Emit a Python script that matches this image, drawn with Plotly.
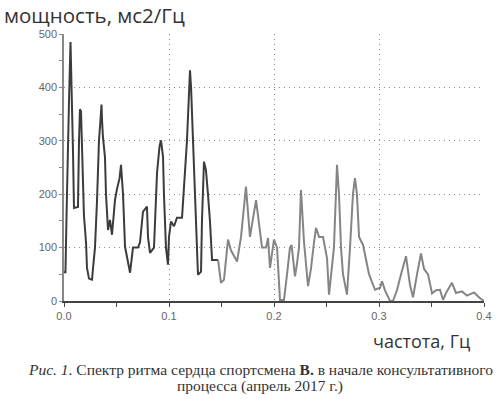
import plotly.graph_objects as go

# Spectrum, first (darker) part
freq_dark = [0.0000, 0.0014, 0.0024, 0.0033, 0.0048, 0.0062, 0.0076, 0.0086, 0.0095, 0.0133,
             0.0143, 0.0152, 0.0162, 0.0171, 0.0181, 0.0190, 0.0210, 0.0219, 0.0238, 0.0267,
             0.0276, 0.0295, 0.0314, 0.0333, 0.0348, 0.0357, 0.0362, 0.0371, 0.0390, 0.0400,
             0.0419, 0.0438, 0.0457, 0.0467, 0.0486, 0.0505, 0.0529, 0.0543, 0.0562, 0.0581,
             0.0610, 0.0629, 0.0657, 0.0705, 0.0724, 0.0752, 0.0790, 0.0800, 0.0819, 0.0857,
             0.0886, 0.0910, 0.0924, 0.0943, 0.0952, 0.0971, 0.0990, 0.1000, 0.1019, 0.1048,
             0.1076, 0.1124, 0.1171, 0.1190, 0.1200, 0.1210, 0.1229, 0.1248, 0.1267, 0.1276,
             0.1305, 0.1314, 0.1333, 0.1352, 0.1371, 0.1390, 0.1410, 0.1467]
power_dark = [54, 54, 158, 268, 378, 485, 378, 277, 174, 176,
              301, 359, 355, 301, 240, 160, 109, 62, 42, 40,
              60, 100, 186, 300, 340, 368, 340, 307, 270, 200,
              133, 152, 124, 150, 190, 210, 230, 255, 200, 102,
              70, 53, 100, 100, 110, 167, 177, 120, 90, 100,
              240, 290, 301, 270, 200, 100, 68, 120, 149, 140,
              156, 156, 300, 400, 432, 400, 300, 200, 100, 49,
              55, 150, 261, 245, 200, 150, 77, 77]

# Spectrum, second (lighter) part
freq_light = [0.1467, 0.1495, 0.1524, 0.1562, 0.1590, 0.1648, 0.1686, 0.1733, 0.1771, 0.1829,
              0.1886, 0.1924, 0.1943, 0.1962, 0.2000, 0.2029, 0.2057, 0.2095, 0.2124, 0.2152,
              0.2167, 0.2200, 0.2219, 0.2238, 0.2257, 0.2267, 0.2286, 0.2324, 0.2352, 0.2381,
              0.2400, 0.2429, 0.2467, 0.2505, 0.2524, 0.2571, 0.2590, 0.2600, 0.2619, 0.2638,
              0.2657, 0.2695, 0.2724, 0.2752, 0.2771, 0.2790, 0.2810, 0.2848, 0.2905, 0.2962,
              0.3010, 0.3029, 0.3057, 0.3105, 0.3133, 0.3171, 0.3210, 0.3257, 0.3295, 0.3324,
              0.3362, 0.3400, 0.3429, 0.3467, 0.3505, 0.3543, 0.3581, 0.3610, 0.3638, 0.3695,
              0.3733, 0.3790, 0.3838, 0.3905, 0.3962, 0.4000]
power_light = [77, 34, 40, 115, 95, 74, 120, 214, 120, 189,
               100, 100, 118, 62, 115, 100, 2, 2, 50, 100,
               105, 46, 70, 100, 208, 175, 110, 28, 60, 110,
               137, 120, 120, 80, 12, 100, 200, 255, 200, 100,
               50, 12, 100, 200, 230, 200, 120, 105, 50, 21,
               25, 37, 20, 0, 0, 20, 50, 84, 30, 7,
               50, 89, 60, 50, 14, 20, 21, 2, 15, 34,
               15, 18, 10, 16, 5, 0]

x_ticks = [0.0, 0.1, 0.2, 0.3, 0.4]
x_tick_labels = ["0.0", "0.1", "0.2", "0.3", "0.4"]
y_ticks = [0, 100, 200, 300, 400, 500]
y_tick_labels = ["0", "100", "200", "300", "400", "500"]

y_title = "мощность, мс2/Гц"
x_title = "частота, Гц"
caption1 = "<i>Рис. 1</i>. Спектр ритма сердца спортсмена <b>В.</b> в начале консультативного"
caption2 = "процесса (апрель 2017 г.)"

fig = go.Figure()
fig.add_trace(go.Scatter(x=freq_dark, y=power_dark, mode="lines",
                         line=dict(color="#3c3c3c", width=2), hoverinfo="skip"))
fig.add_trace(go.Scatter(x=freq_light, y=power_light, mode="lines",
                         line=dict(color="#858585", width=2), hoverinfo="skip"))

grid = dict(gridcolor="#8a8a8a", gridwidth=1, griddash="1px,4px")
fig.update_xaxes(range=[0, 0.4], tickvals=x_ticks, ticktext=x_tick_labels,
                 showline=True, linecolor="#444", linewidth=1.5, automargin=False,
                 ticks="outside", ticklen=4, tickcolor="#444",
                 minor=dict(dtick=0.05, ticks="outside", ticklen=4, tickcolor="#444", showgrid=False),
                 tickfont=dict(family="Liberation Sans", size=11, color="#666"),
                 showgrid=True, zeroline=False, **grid)
fig.update_yaxes(range=[0, 500], tickvals=y_ticks, ticktext=y_tick_labels,
                 showline=True, linecolor="#888", linewidth=1.5, automargin=False,
                 ticks="outside", ticklen=3, tickcolor="#888",
                 minor=dict(dtick=50, ticks="outside", ticklen=3, tickcolor="#888", showgrid=False),
                 tickfont=dict(family="Liberation Sans", size=11, color="#666"),
                 showgrid=True, zeroline=False, **grid)

annotations = [
    dict(text=y_title, x=-0.1476, y=1.0728, xanchor="left", yanchor="middle",
         font=dict(family="Open Sans", size=20.5, color="#333")),
    dict(text=x_title, x=0.9714, y=-0.150, xanchor="right", yanchor="middle",
         font=dict(family="Open Sans", size=18, color="#333")),
    dict(text=caption1, x=0.4667, y=-0.2556, xanchor="center", yanchor="middle",
         font=dict(family="Liberation Serif", size=15.5, color="#333")),
    dict(text=caption2, x=0.4667, y=-0.319, xanchor="center", yanchor="middle",
         font=dict(family="Liberation Serif", size=15.5, color="#333")),
]
for a in annotations:
    a.update(xref="paper", yref="paper", showarrow=False)

fig.update_layout(width=499, height=399, margin=dict(l=64, r=15, t=33.5, b=97.5),
                  paper_bgcolor="white", plot_bgcolor="white", showlegend=False,
                  annotations=annotations)

fig.write_html("out.html", config={"displayModeBar": False},
               post_script="document.body.style.margin='0';document.body.style.overflow='hidden';")
